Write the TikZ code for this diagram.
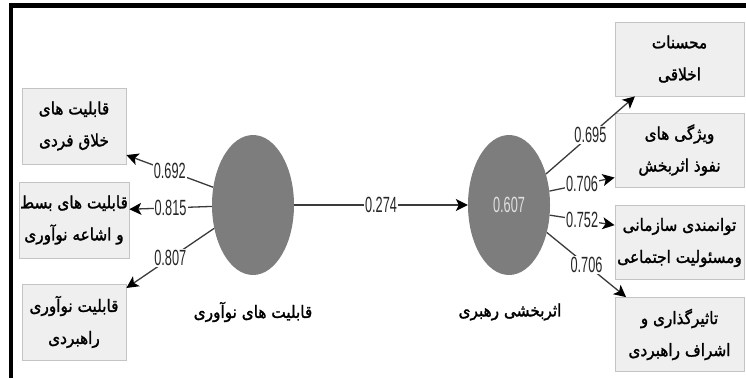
\documentclass[tikz,border=0pt]{standalone}
\usepackage{fontspec}
\usetikzlibrary{shapes.geometric,arrows.meta}
\TeXXeTstate=1
\newfontfamily\arabicfont[Script=Arabic,FakeStretch=0.9,FakeBold=1.5]{DejaVu Sans}
\newfontfamily\numfont[FakeStretch=0.58]{Liberation Sans}
\newcommand\fatxt[1]{{\arabicfont\beginR #1\endR}}
\definecolor{boxfill}{HTML}{EFEFEF}
\definecolor{boxline}{HTML}{C4C4C4}
\definecolor{latent}{HTML}{7D7D7D}
\definecolor{edge}{HTML}{3A3A3A}
\begin{document}
\begin{tikzpicture}[x=1pt,y=-1pt,
  box/.style={rectangle, draw=boxline, fill=boxfill, line width=0.8pt,
    align=center, inner sep=1pt, font=\fontsize{17}{32}\selectfont},
  lbox/.style={box, minimum width=104pt, minimum height=76pt},
  rbox/.style={box, minimum width=129pt, minimum height=74pt},
  latentnode/.style={ellipse, fill=latent, minimum width=82pt, minimum height=140pt, inner sep=0pt},
  conn/.style={draw=edge, line width=1.3pt, -{Stealth[length=12pt,width=12pt,inset=3pt,color=black]}},
  wlabel/.style={fill=white, inner sep=1pt, text=black!85, font=\numfont\fontsize{22}{22}\selectfont},
  caption/.style={font=\fontsize{17}{20}\selectfont}
]
\useasboundingbox (0,0) rectangle (746,378);
% frame lines
\fill[black] (9,3) rectangle (746,8);
\fill[black] (9,3) rectangle (13,378);

% latent variables
\node[latentnode] (E1) at (253,205) {};
\node[latentnode, text=black!12, font=\numfont\fontsize{22}{22}\selectfont] (E2) at (509,205) {0.607};
\node[caption] (C1) at (253,312) {\fatxt{قابلیت های نوآوری}};
\node[caption] (C2) at (510,312) {\fatxt{اثربخشی رهبری}};

% left indicators
\node[lbox] (L1) at (74,126) {\fatxt{قابلیت های}\\\fatxt{خلاق فردی}};
\node[lbox] (L2) at (74,220) {\fatxt{قابلیت های بسط}\\\fatxt{و اشاعه نوآوری}};
\node[lbox] (L3) at (74,322) {\fatxt{قابلیت نوآوری}\\\fatxt{راهبردی}};

% right indicators
\node[rbox] (R1) at (679.5,59) {\fatxt{محسنات}\\\fatxt{اخلاقی}};
\node[rbox] (R2) at (679.5,150) {\fatxt{ویژگی های}\\\fatxt{نفوذ اثربخش}};
\node[rbox] (R3) at (679.5,242.5) {\fatxt{توانمندی سازمانی}\\\fatxt{ومسئولیت اجتماعی}};
\node[rbox] (R4) at (679.5,334.5) {\fatxt{تاثیرگذاری و}\\\fatxt{اشراف راهبردی}};

% connectors
\path[conn] (E1.156) -- node[wlabel] {0.692} (L1.-29);
\path[conn] (E1.182) -- node[wlabel] {0.815} (L2.11);
\path[conn] (E1.211) -- node[wlabel] {0.807} (L3.33);
\path[conn] (E1.east) -- node[wlabel] {0.274} (E2.west);
\path[conn] (E2.40) -- node[wlabel] {0.695} (R1.220);
\path[conn] (E2.19) -- node[wlabel] {0.706} (R2.203);
\path[conn] (E2.-14) -- node[wlabel] {0.752} (R3.165);
\path[conn] (E2.-36) -- node[wlabel] {0.706} (R4.145);
\end{tikzpicture}
\end{document}
